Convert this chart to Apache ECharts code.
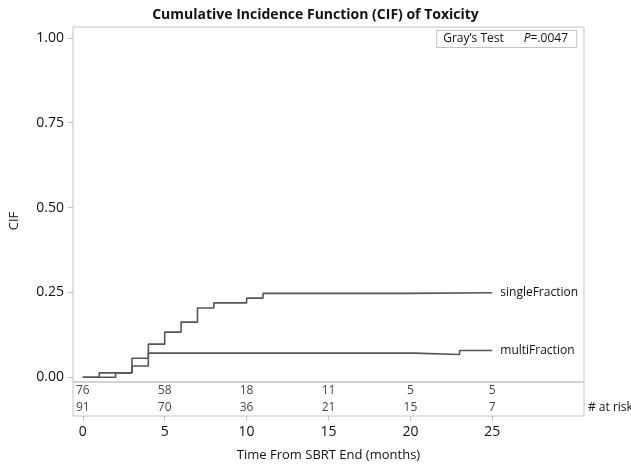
<!DOCTYPE html>
<html><head><meta charset="utf-8">
<script src="https://cdn.jsdelivr.net/npm/echarts@6/dist/echarts.min.js"></script>
<style>html,body{margin:0;padding:0;background:#fff}#c{width:631px;height:467px}</style>
</head><body><div id="c"></div>
<script>
// CIF step curves (time in months, cumulative incidence)
const singleTimes = [0, 1, 3, 4, 5, 6, 7, 8, 10, 11, 20, 25];
const singleCIF   = [0, 0.013, 0.033, 0.0975, 0.133, 0.1625, 0.204, 0.219, 0.233, 0.247, 0.249, 0.249];
const multiTimes  = [0, 2, 3, 4, 20.2, 23, 25];
const multiCIF    = [0, 0.013, 0.056, 0.071, 0.067, 0.079, 0.079];
// number at risk table
const riskTimes  = [0, 5, 10, 15, 20, 25];
const riskSingle = [76, 58, 18, 11, 5, 5];
const riskMulti  = [91, 70, 36, 21, 15, 7];
const riskRows   = ['single', 'multi'];
// ticks
const yTicks = [0, 0.25, 0.5, 0.75, 1];
const xTicks = [0, 5, 10, 15, 20, 25];

const FONT = 'Open Sans';
const frame = '#c4c4c4';
const zip = (a, b) => a.map((v, i) => [v, b[i]]);
const riskData = [];
riskTimes.forEach((t, i) => {
  riskData.push([t, riskRows[0], riskSingle[i]]);
  riskData.push([t, riskRows[1], riskMulti[i]]);
});

const chart = echarts.init(document.getElementById('c'), null, {renderer: 'canvas'});
chart.setOption({
  animation: false,
  backgroundColor: '#fff',
  textStyle: {fontFamily: FONT},
  title: [{
    text: 'Cumulative Incidence Function (CIF) of Toxicity',
    left: 'center', top: 3,
    textStyle: {fontFamily: FONT, fontSize: 14, fontWeight: 'bold', color: '#111'}
  }, {
    text: 'Gray\u2019s Test{s|}{i|P}=.0047',
    right: 54, top: 30,
    borderColor: frame, borderWidth: 1,
    padding: [3, 9, 3, 7],
    textStyle: {fontFamily: FONT, fontSize: 12, fontWeight: 'normal', color: '#111',
      rich: {
        s: {width: 20},
        i: {fontStyle: 'italic', fontFamily: FONT, fontSize: 12, color: '#111'}
      }}
  }],
  graphic: [{
    type: 'text', x: 14, y: 221, rotation: Math.PI / 2,
    style: {text: 'CIF', fontFamily: FONT, fontSize: 13, fill: '#111', align: 'center', verticalAlign: 'middle'}
  }, {
    type: 'text', x: 588, y: 408,
    style: {text: '# at risk', fontFamily: FONT, fontSize: 12, fill: '#111', align: 'left', verticalAlign: 'middle'}
  }],
  grid: [
    {left: 73, right: 47, top: 27, bottom: 85, show: true, borderColor: frame, borderWidth: 1},
    {left: 73, right: 47, top: 382, bottom: 51, show: true, borderColor: frame, borderWidth: 1}
  ],
  xAxis: [{
    gridIndex: 0, type: 'value', min: -0.6, max: 30.6,
    axisLine: {show: false, onZero: false}, axisTick: {show: false}, axisLabel: {show: false}, splitLine: {show: false}
  }, {
    gridIndex: 1, type: 'value', min: -0.6, max: 30.6, position: 'bottom',
    axisLine: {show: false, onZero: false},
    axisTick: {show: true, customValues: xTicks, length: 5, lineStyle: {color: frame}},
    axisLabel: {customValues: xTicks, fontSize: 14, color: '#111', margin: 9, fontFamily: FONT},
    splitLine: {show: false},
    name: 'Time From SBRT End (months)', nameLocation: 'middle', nameGap: 33,
    nameTextStyle: {fontSize: 13, color: '#111', fontFamily: FONT}
  }],
  yAxis: [{
    gridIndex: 0, type: 'value', min: -0.014, max: 1.032, position: 'left',
    axisLine: {show: false, onZero: false},
    axisTick: {show: true, customValues: yTicks, length: 5, lineStyle: {color: frame}},
    axisLabel: {customValues: yTicks, formatter: v => v.toFixed(2), fontSize: 14, color: '#111', margin: 9, fontFamily: FONT},
    splitLine: {show: false}
  }, {
    gridIndex: 1, type: 'category', data: riskRows, inverse: true, position: 'left',
    axisLine: {show: false, onZero: false}, axisTick: {show: false}, axisLabel: {show: false}, splitLine: {show: false}
  }],
  series: [{
    name: 'singleFraction', type: 'line', step: 'end',
    xAxisIndex: 0, yAxisIndex: 0, data: zip(singleTimes, singleCIF),
    showSymbol: false, symbol: 'none',
    lineStyle: {color: '#555', width: 1.6},
    endLabel: {show: true, formatter: 'singleFraction', distance: 8, fontSize: 12, color: '#111', fontFamily: FONT}
  }, {
    name: 'multiFraction', type: 'line', step: 'end',
    xAxisIndex: 0, yAxisIndex: 0, data: zip(multiTimes, multiCIF),
    showSymbol: false, symbol: 'none',
    lineStyle: {color: '#555', width: 1.6},
    endLabel: {show: true, formatter: 'multiFraction', distance: 8, fontSize: 12, color: '#111', fontFamily: FONT}
  }, {
    name: 'atRisk', type: 'scatter', xAxisIndex: 1, yAxisIndex: 1,
    data: riskData, symbolSize: 0,
    label: {show: true, position: 'inside', formatter: p => String(p.value[2]), fontSize: 12, color: '#111', fontFamily: FONT}
  }]
});
</script></body></html>
